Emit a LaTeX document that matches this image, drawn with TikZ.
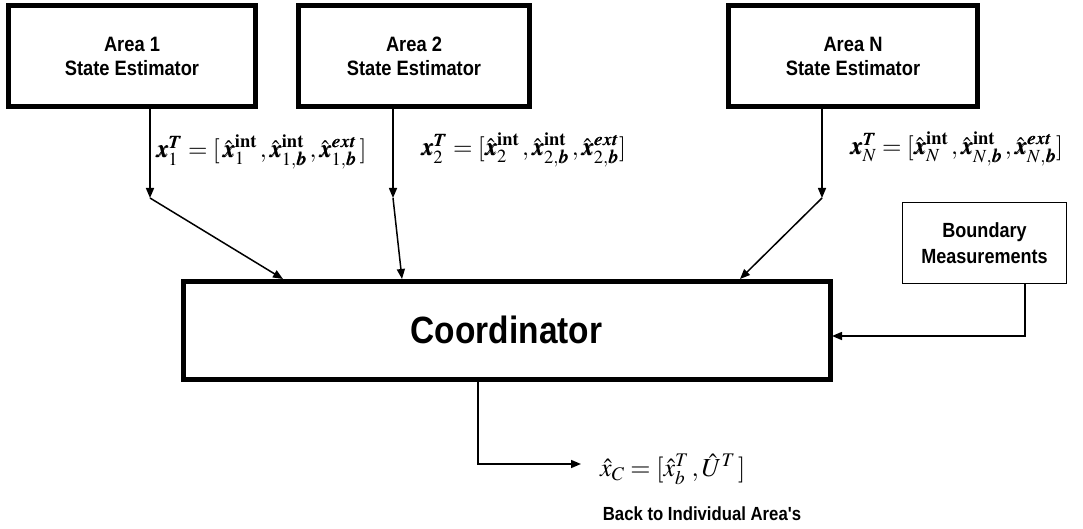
\documentclass[tikz,border=0pt]{standalone}
\usepackage{amsmath}
\usepackage{mathptmx}
\usepackage{bm}
\usepackage{fontspec}
\newfontfamily\narrowsans[FakeStretch=0.88]{Liberation Sans}
\usetikzlibrary{arrows.meta}
\begin{document}
\begin{tikzpicture}[x=1pt,y=-1pt,
  areabox/.style={draw,line width=5pt,minimum width=#1,minimum height=101pt,inner sep=0pt,
    align=center,font=\narrowsans\bfseries\fontsize{20.8}{24}\selectfont},
  coordbox/.style={draw,line width=5pt,minimum width=647pt,minimum height=98pt,inner sep=0pt,
    font=\narrowsans\bfseries\fontsize{38}{44}\selectfont},
  bmbox/.style={draw,line width=1.6pt,minimum width=164pt,minimum height=81pt,inner sep=0pt,
    align=center,font=\narrowsans\bfseries\fontsize{20.5}{26}\selectfont},
  conn/.style={line width=1.5pt},
  arr/.style={conn,-{Triangle[length=10pt,width=8pt]}},
  mathlbl/.style={inner sep=0pt,font=\fontsize{25}{29}\selectfont},
  outlbl/.style={inner sep=0pt,font=\fontsize{26}{30}\selectfont},
  caption/.style={inner sep=0pt,font=\narrowsans\bfseries\fontsize{19}{22}\selectfont}]
\useasboundingbox (0,0) rectangle (1083,529);
\fill[white] (0,0) rectangle (1083,529);

\node[areabox=247pt] (a1) at (132,56) {Area 1\\State Estimator};
\node[areabox=231pt] (a2) at (414,56) {Area 2\\State Estimator};
\node[areabox=249pt] (an) at (853,56) {Area N\\State Estimator};
\node[coordbox] (co) at (506.5,330) {Coordinator};
\node[bmbox] (bm) at (984.5,243) {Boundary\\Measurements};

\coordinate (j1) at (150,198);
\coordinate (j2) at (393,198);
\coordinate (jn) at (822,198);
\coordinate (e1) at (283,279);
\coordinate (e2) at (402,279);
\coordinate (en) at (740,279);
\coordinate (bc) at (1025,336);
\coordinate (eb) at (832,336);
\coordinate (oc) at (478,464);
\coordinate (ot) at (581,464);

\draw[arr] (a1.south -| j1) -- (j1);
\draw[arr] (j1) -- (e1);
\draw[arr] (a2.south -| j2) -- (j2);
\draw[arr] (j2) -- (e2);
\draw[arr] (an.south -| jn) -- (jn);
\draw[arr] (jn) -- (en);
\draw[arr] (bm.south -| bc) -- (bc) -- (eb);
\draw[arr] (co.south -| oc) -- (oc) -- (ot);

\node[mathlbl,anchor=west] (l1) at (156,152)
  {$\bm{x}_1^{\bm{T}} = [\,\hat{\bm{x}}_1^{\mathrm{\bf int}}\,, \hat{\bm{x}}_{1,\bm{b}}^{\mathrm{\bf int}}\,, \hat{\bm{x}}_{1,\bm{b}}^{\bm{ext}}\,]$};
\node[mathlbl,anchor=west] (l2) at (421,150)
  {$\bm{x}_2^{\bm{T}} = [\hat{\bm{x}}_2^{\mathrm{\bf int}}\,, \hat{\bm{x}}_{2,\bm{b}}^{\mathrm{\bf int}}\,, \hat{\bm{x}}_{2,\bm{b}}^{\bm{ext}}]$};
\node[mathlbl,anchor=west] (ln) at (850,149)
  {$\bm{x}_N^{\bm{T}} = [\hat{\bm{x}}_N^{\mathrm{\bf int}}\,, \hat{\bm{x}}_{N,\bm{b}}^{\mathrm{\bf int}}\,, \hat{\bm{x}}_{N,\bm{b}}^{\bm{ext}}]$};
\node[outlbl,anchor=west] (lo) at (600,469)
  {$\hat{x}_C = [\hat{x}_b^T\,, \hat{U}^T\,]$};
\node[caption] (cap) at (702,514) {Back to Individual Area's};
\end{tikzpicture}
\end{document}
